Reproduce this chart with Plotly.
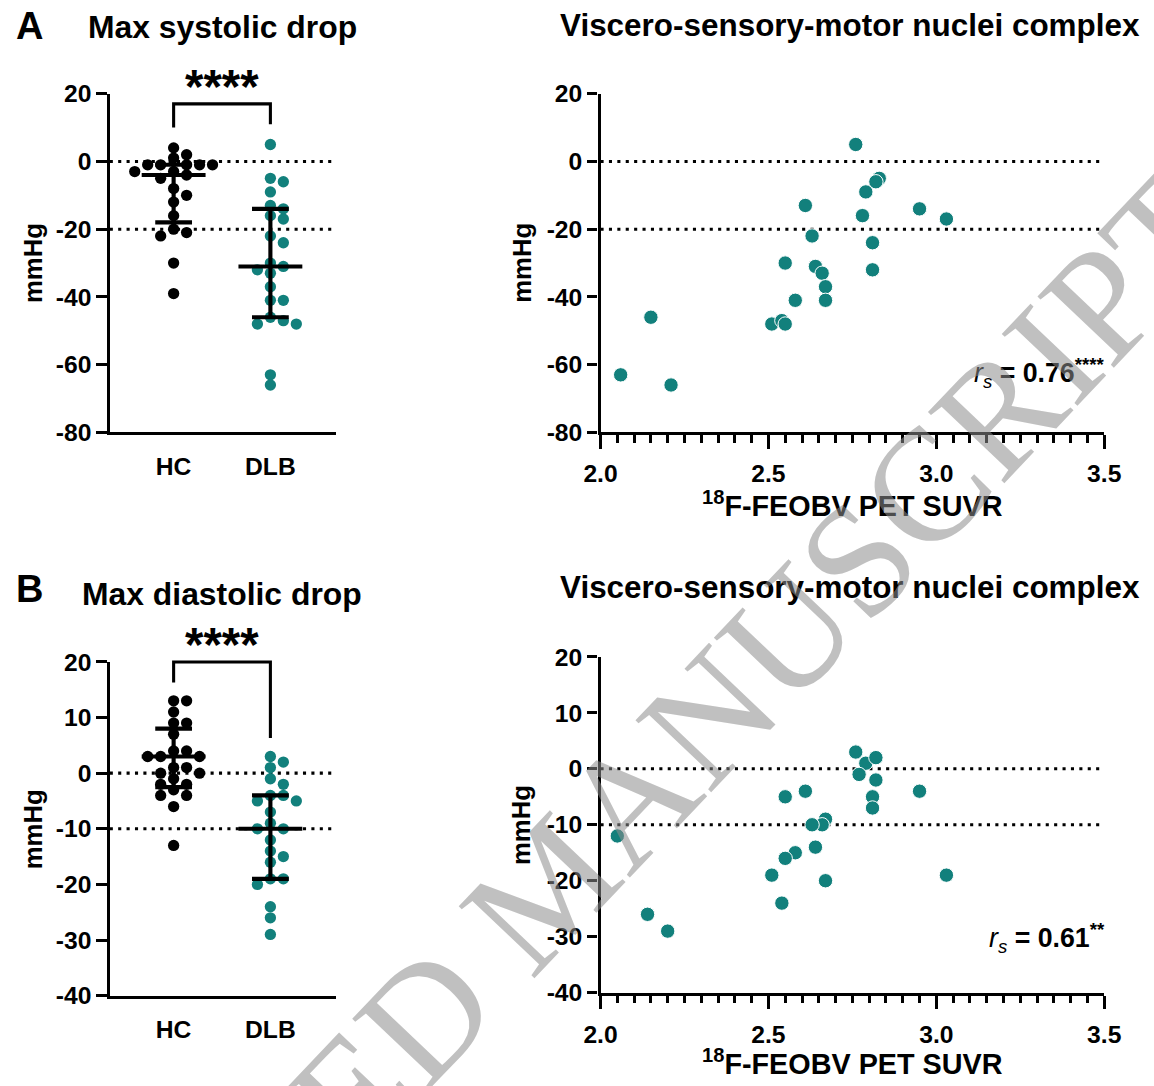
import plotly.graph_objects as go

W, H = 1154, 1086
TEAL = "#12807C"
FONT = "Liberation Sans, Arial, sans-serif"

# ---------------- data ----------------
groups = ["HC", "DLB"]

# Panel A: max systolic drop (mmHg)
hc_sys = [4, 2, 1, -1, -1, -1, -1, -1, -3, -3, -4, -5, -8, -10, -12, -16, -20, -21, -22, -30, -39]
dlb_sys = [5, -5, -6, -9, -13, -14, -17, -16, -22, -24, -30, -31, -33, -32, -37, -41, -41, -48, -47, -48, -46, -63, -66]
suvr_sys = [2.76, 2.83, 2.82, 2.79, 2.61, 2.95, 3.03, 2.78, 2.63, 2.81, 2.55, 2.64, 2.66, 2.81, 2.67, 2.67, 2.58,
            2.51, 2.54, 2.55, 2.15, 2.06, 2.21]
# median with interquartile range  [Q1, median, Q3]
hc_sys_q = [-18, -4, -1]
dlb_sys_q = [-46, -31, -14]

# Panel B: max diastolic drop (mmHg)
hc_dia = [13, 13, 11, 9, 9, 7, 4, 4, 3, 3, 3, 1, 1, 0, 0, -1, -2, -2, -3, -4, -4, -6, -13]
dlb_dia = [3, 1, 2, -1, -2, -5, -7, -4, -4, -5, -9, -10, -10, -12, -14, -15, -16, -19, -20, -19, -24, -26, -29]
suvr_dia = [2.76, 2.79, 2.82, 2.77, 2.82, 2.81, 2.81, 2.95, 2.61, 2.55, 2.67, 2.66, 2.63, 2.05, 2.64, 2.58, 2.55,
            2.51, 2.67, 3.03, 2.54, 2.14, 2.20]
hc_dia_q = [-2.5, 3, 8]
dlb_dia_q = [-19, -10, -4]

ref_sys = [0, -20]
ref_dia = [0, -10]

yticks_sys = [20, 0, -20, -40, -60, -80]
yticks_dia = [20, 10, 0, -10, -20, -30, -40]
xticks_suvr = [2.0, 2.5, 3.0, 3.5]

rs_sys = "0.76"
rs_sys_sig = "****"
rs_dia = "0.61"
rs_dia_sig = "**"
group_sig = "****"

titles_left = ["Max systolic drop", "Max diastolic drop"]
title_right = "Viscero-sensory-motor nuclei complex"
panel_letters = ["A", "B"]
watermark = "ACCEPTED MANUSCRIPT"

# ---------------- layout geometry ----------------
# target positions are given in pixels of the final picture; the photographed page is
# shown inside a small frame, so map picture pixels -> page pixels
S = 0.973
OFF_X, OFF_Y = 15.0, 14.5
K = 1.0 / S


def px_x(p):
    return (p - OFF_X) / S / W


def px_y(p):
    return 1 - (p - OFF_Y) / S / H


def fs(v):
    return v * K


left_dom_x = [px_x(108), px_x(335)]
right_dom_x = [px_x(600), px_x(1105)]
A_dom_y = [px_y(433), px_y(95)]
B_left_dom_y = [px_y(995), px_y(662)]
B_right_dom_y = [px_y(992), px_y(657)]
cat_range = [-0.66, 1.68]
sys_range = [-80, 20]
dia_range = [-40, 20]
suvr_range = [2.0, 3.5]


def swarm(values, center, dom_x, rng_x, dom_y, rng_y, diam=10.0, step=13.0):
    ppx = W * (dom_x[1] - dom_x[0]) / (rng_x[1] - rng_x[0])
    ppy = H * (dom_y[1] - dom_y[0]) / (rng_y[1] - rng_y[0])
    diam, step = fs(diam), fs(step)
    order = sorted(range(len(values)), key=lambda i: -values[i])
    cands = [0.0]
    for j in range(1, 15):
        cands += [j * step, -j * step]
    placed = []
    out = [0.0] * len(values)
    for i in order:
        yp = values[i] * ppy
        chosen = cands[-1]
        for c in cands:
            if all((c - a) ** 2 + (yp - b) ** 2 >= diam ** 2 for a, b in placed):
                chosen = c
                break
        placed.append((chosen, yp))
        out[i] = center + chosen / ppx
    return out


def yfrac(v, rng):
    return (v - rng[0]) / (rng[1] - rng[0])


fig = go.Figure()

# swarm traces
for (vals, cidx, color, xa, ya, domy, rngy) in [
    (hc_sys, 0, "black", "x", "y", A_dom_y, sys_range),
    (dlb_sys, 1, TEAL, "x", "y", A_dom_y, sys_range),
    (hc_dia, 0, "black", "x3", "y3", B_left_dom_y, dia_range),
    (dlb_dia, 1, TEAL, "x3", "y3", B_left_dom_y, dia_range),
]:
    xs = swarm(vals, cidx, left_dom_x, cat_range, domy, rngy)
    fig.add_trace(go.Scatter(x=xs, y=vals, mode="markers", xaxis=xa, yaxis=ya,
                             marker=dict(size=fs(11), color=color, line=dict(width=0)),
                             showlegend=False, hoverinfo="skip"))

# correlation scatters
for xv, yv, xa, ya in [(suvr_sys, dlb_sys, "x2", "y2"), (suvr_dia, dlb_dia, "x4", "y4")]:
    fig.add_trace(go.Scatter(x=xv, y=yv, mode="markers", xaxis=xa, yaxis=ya,
                             marker=dict(size=fs(14), color=TEAL, line=dict(width=1, color="white")),
                             showlegend=False))

shapes = []
dot = dict(color="black", width=fs(3), dash=f"{fs(3):.1f}px,{fs(5.2):.1f}px")
for xa, ya, refs in [("x", "y", ref_sys), ("x2", "y2", ref_sys), ("x3", "y3", ref_dia), ("x4", "y4", ref_dia)]:
    for r in refs:
        shapes.append(dict(type="line", xref=xa + " domain", yref=ya, x0=0, x1=1, y0=r, y1=r,
                           line=dot, layer="below"))

# median + IQR
solid = dict(color="black", width=fs(4))
for xa, ya, qs in [("x", "y", [hc_sys_q, dlb_sys_q]), ("x3", "y3", [hc_dia_q, dlb_dia_q])]:
    for i, q in enumerate(qs):
        shapes.append(dict(type="line", xref=xa, yref=ya, x0=i, x1=i, y0=q[0], y1=q[2], line=solid))
        shapes.append(dict(type="line", xref=xa, yref=ya, x0=i - 0.33, x1=i + 0.33, y0=q[1], y1=q[1], line=solid))
        for v in (q[0], q[2]):
            shapes.append(dict(type="line", xref=xa, yref=ya, x0=i - 0.19, x1=i + 0.19, y0=v, y1=v, line=solid))

# significance brackets [left leg bottom, top, right leg bottom] and star height
br_sys = [10, 17, 11]
br_dia = [16.3, 20, 6.3]
star_y_sys = 22.2
star_y_dia = 23.2
annotations = []
for xa, ya, br, rng, sy in [("x", "y", br_sys, sys_range, star_y_sys), ("x3", "y3", br_dia, dia_range, star_y_dia)]:
    a, t, b = (yfrac(v, rng) for v in br)
    path = f"M0,{a} L0,{t} L1,{t} L1,{b}"
    shapes.append(dict(type="path", xref=xa, yref=ya + " domain", path=path,
                       line=dict(color="black", width=fs(3))))
    annotations.append(dict(text=group_sig, x=0.5, y=yfrac(sy, rng), xref=xa, yref=ya + " domain",
                            showarrow=False,
                            font=dict(family=FONT, size=fs(46), color="black", weight="bold"),
                            xanchor="center", yanchor="middle"))


def ann(text, x, y, size, **kw):
    d = dict(text=text, x=px_x(x), y=px_y(y), xref="paper", yref="paper", showarrow=False,
             font=dict(family=FONT, size=fs(size), color="black", weight="bold"),
             xanchor="center", yanchor="middle")
    d.update(kw)
    annotations.append(d)

ann(panel_letters[0], 28, 27, 37)
ann(panel_letters[1], 28, 589, 37)
ann(titles_left[0], 221, 28, 31)
ann(titles_left[1], 221, 594, 31)
ann(title_right, 850, 27, 30.6)
ann(title_right, 850, 588, 30.6)
for (x, y) in [(31, 264), (521, 264), (31, 829), (521, 825)]:
    ann("mmHg", x, y, 25, textangle=-90)
ann("<sup>18</sup>F-FEOBV PET SUVR", 853, 504, 28)
ann("<sup>18</sup>F-FEOBV PET SUVR", 853, 1061, 28)

# spearman labels
for txt, sig, y in [(rs_sys, rs_sys_sig, 374), (rs_dia, rs_dia_sig, 937)]:
    ann(f"<i>r<sub>s</sub></i><b> = {txt}<sup>{sig}</sup></b>", 1108, y, 26, xanchor="right",
        font=dict(family=FONT, size=fs(26), color="black", weight="normal"))

# watermark
annotations.append(dict(text=watermark, x=px_x(548), y=px_y(885), xref="paper", yref="paper",
                        showarrow=False, textangle=-46.5,
                        font=dict(family="Liberation Serif, Times New Roman, serif", size=fs(155),
                                  color="rgba(140,140,140,0.55)"),
                        xanchor="center", yanchor="middle"))

tickfont = dict(family=FONT, size=fs(24), color="black", weight="bold")
axis_common = dict(showline=True, linewidth=fs(3), linecolor="black", ticks="outside", ticklen=fs(10),
                   tickwidth=fs(3), tickcolor="black", showgrid=False, zeroline=False, tickfont=tickfont)

cat_axis = dict(range=cat_range, tickvals=[0, 1], ticktext=groups, showline=True, linewidth=fs(3),
                linecolor="black", ticks="", showgrid=False, zeroline=False, tickfont=tickfont,
                ticklabelstandoff=int(round(fs(10))), fixedrange=True)

suvr_axis = dict(axis_common, range=suvr_range, tickvals=xticks_suvr, ticktext=[f"{v:.1f}" for v in xticks_suvr],
                 ticklen=fs(13), ticklabelstandoff=int(round(fs(4))),
                 minor=dict(dtick=0.05, tick0=2.0, ticks="outside", ticklen=fs(7), tickwidth=fs(3),
                            tickcolor="black", showgrid=False))

fig.update_layout(
    width=W, height=H, margin=dict(l=0, r=0, t=0, b=0),
    paper_bgcolor="white", plot_bgcolor="rgba(0,0,0,0)", showlegend=False,
    xaxis=dict(cat_axis, domain=left_dom_x, anchor="y"),
    yaxis=dict(axis_common, domain=A_dom_y, range=sys_range, tickvals=yticks_sys,
               ticktext=[str(v) for v in yticks_sys], anchor="x"),
    xaxis2=dict(suvr_axis, domain=right_dom_x, anchor="y2"),
    yaxis2=dict(axis_common, domain=A_dom_y, range=sys_range, tickvals=yticks_sys,
                ticktext=[str(v) for v in yticks_sys], anchor="x2"),
    xaxis3=dict(cat_axis, domain=left_dom_x, anchor="y3"),
    yaxis3=dict(axis_common, domain=B_left_dom_y, range=dia_range, tickvals=yticks_dia,
                ticktext=[str(v) for v in yticks_dia], anchor="x3"),
    xaxis4=dict(suvr_axis, domain=right_dom_x, anchor="y4"),
    yaxis4=dict(axis_common, domain=B_right_dom_y, range=dia_range, tickvals=yticks_dia,
                ticktext=[str(v) for v in yticks_dia], anchor="x4"),
    shapes=shapes, annotations=annotations,
)

post = (
    "document.documentElement.style.margin='0';document.documentElement.style.padding='0';"
    "document.body.style.margin='0';document.body.style.padding='0';document.body.style.overflow='hidden';"
)
fig.write_html("out.html", config={"displayModeBar": False}, post_script=post)
